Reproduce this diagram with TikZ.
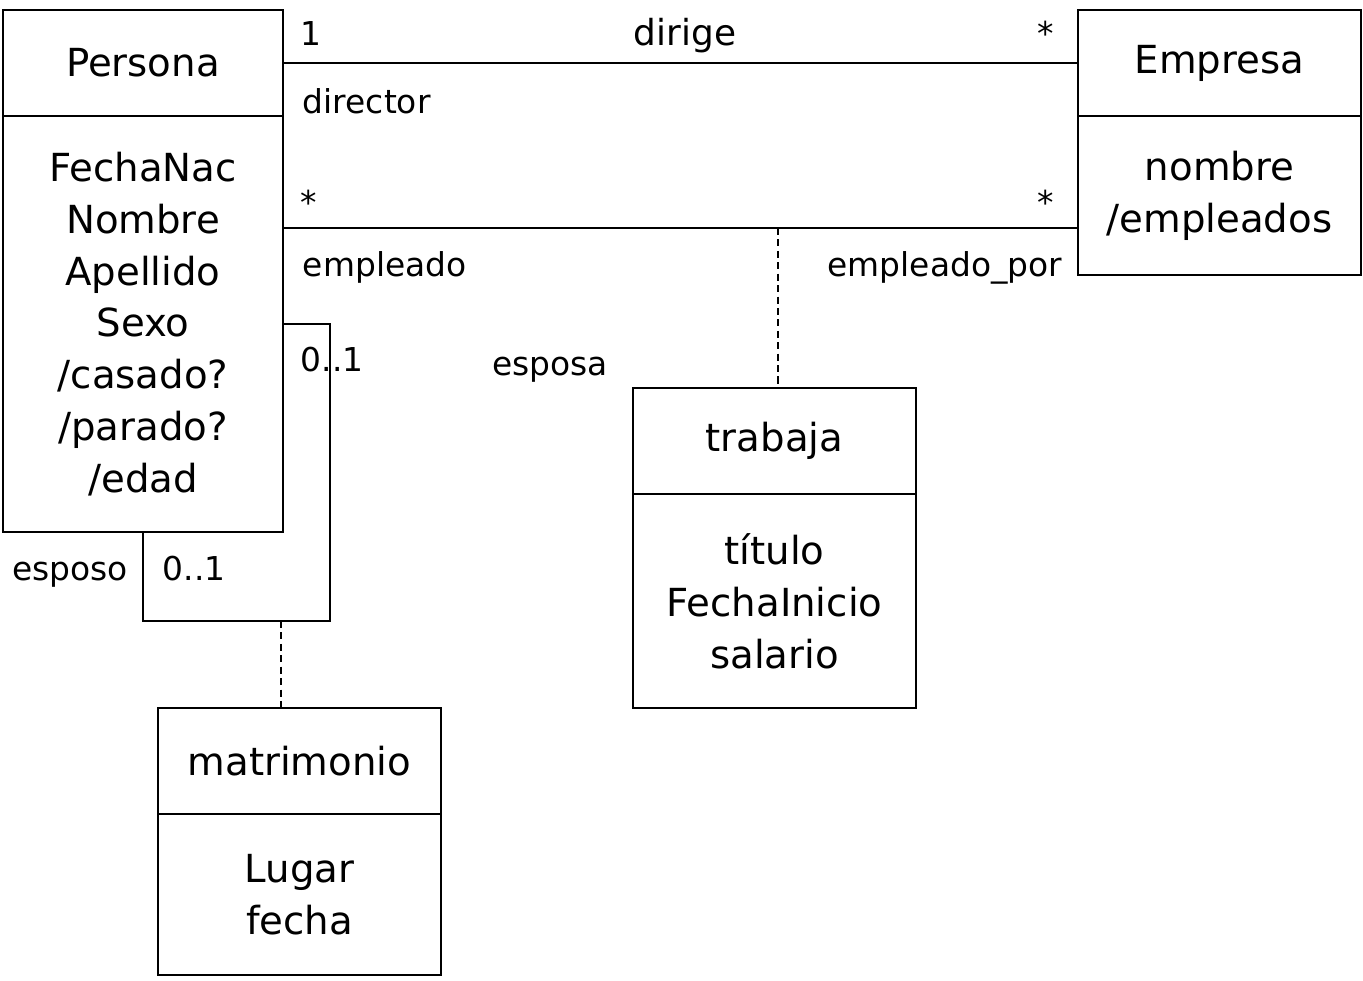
\documentclass[tikz,border=0pt]{standalone}
\usepackage{fontspec}
\setmainfont{DejaVu Sans}
\usetikzlibrary{positioning}
\tikzset{auto}

\begin{document}
\begin{tikzpicture}[line width=1.1pt,
    classname/.style={draw, minimum width=5.66cm, minimum height=2.12cm,
      inner sep=0pt, outer sep=0pt, font=\fontsize{22}{29.5}\selectfont},
    classattr/.style={classname, align=center},
    role/.style={inner sep=0pt, font=\fontsize{18.7}{22}\selectfont},
    assoc/.style={dash pattern=on 4pt off 2.5pt}]
        \useasboundingbox (0,0) rectangle (27.26,-19.6);
        \node (pt) [classname, minimum width=5.6cm] at (2.86,-1.26) {Persona};
        \node (pa) [classattr, minimum width=5.6cm, minimum height=8.32cm, below=0pt of pt]
          {FechaNac\\Nombre\\Apellido\\Sexo\\/casado?\\/parado?\\/edad};
        \node (et) [classname] at (24.39,-1.26) {Empresa};
        \node (ea) [classattr, minimum height=3.18cm, below=0pt of et] {nombre\\/empleados};
        \node (tt) [classname] at (15.49,-8.82) {trabaja};
        \node (ta) [classattr, minimum height=4.28cm, below=0pt of tt] {título\\FechaInicio\\salario};
        \node (mt) [classname] at (5.99,-15.22) {matrimonio};
        \node (ma) [classattr, minimum height=3.22cm, below=0pt of mt] {Lugar\\fecha};
        \coordinate (emp) at (15.56,-4.56);
        \coordinate (selfc) at (6.6,-12.42);
        \coordinate (mj) at (5.62,-12.42);
        \draw (pt) -- (et);
        \draw (pa.east |- emp) -- (ea.west |- emp);
        \draw[assoc] (emp) -- (emp |- tt.north);
        \draw (pa.east) -| (selfc) -| (pa.south);
        \draw[assoc] (mj) -- (mj |- mt.north);
        \node (m1) [role, anchor=base] at (6.22,-0.9) {1};
        \node (dir) [role, anchor=base, font=\fontsize{20.4}{24}\selectfont] at (13.7,-0.9) {dirige};
        \node (m2) [role, anchor=base] at (20.92,-0.9) {*};
        \node (rdir) [role, anchor=base west] at (6.04,-2.26) {director};
        \node (m3) [role, anchor=base] at (6.18,-4.28) {*};
        \node (m4) [role, anchor=base] at (20.92,-4.28) {*};
        \node (remp) [role, anchor=base west] at (6.04,-5.52) {empleado};
        \node (rpor) [role, anchor=base east] at (21.26,-5.52) {empleado\_por};
        \node (m5) [role, anchor=base west] at (6.0,-7.42) {0..1};
        \node (resa) [role, anchor=base] at (11.0,-7.5) {esposa};
        \node (reso) [role, anchor=base east] at (2.58,-11.6) {esposo};
        \node (m6) [role, anchor=base west] at (3.24,-11.6) {0..1};
      \end{tikzpicture}
\end{document}
